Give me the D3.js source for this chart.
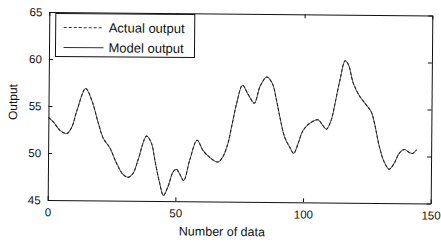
<!DOCTYPE html>
<html>
<head>
<meta charset="utf-8">
<script src="https://cdn.jsdelivr.net/npm/d3@7"></script>
<style>
  body { margin: 0; background: #fff; }
  svg { display: block; font-family: "Liberation Sans", Arial, sans-serif; }
  .tick text { font-size: 11.5px; fill: #111; }
</style>
</head>
<body>
<svg width="441" height="242"></svg>
<script>
  // sample number (x)
  const dataIndex = [0, 2, 4.7, 7.3, 9.2, 11.2, 14.5, 17, 19.6, 21.6, 24.2, 26.8, 29.4, 31.4, 33.3,
    35.3, 38.5, 40.5, 41.8, 43.8, 45.3, 47, 49, 50.3, 51.6, 53.2, 55.5, 58.3, 60.7, 63.3, 66.5,
    68.5, 70.4, 71.8, 73.7, 75.9, 78.2, 80.6, 82.8, 85.4, 87.6, 89.3, 90.6, 92.6, 94.5, 96.2,
    97.8, 99.7, 102.3, 105.6, 107.2, 108.9, 110.8, 112.1, 114.1, 116, 117.3, 119.3, 121.9,
    124.5, 126.4, 127.7, 129.7, 131.6, 133.6, 135.5, 137.5, 139.5, 141.4, 142.7, 144.3];

  // measured output
  const actualOutput = [53.8, 53.3, 52.4, 52.1, 52.8, 54.6, 56.9, 55.6, 53.2, 51.6, 50.6, 49.0, 47.8, 47.5, 47.9,
    49.4, 51.9, 51.1, 49.4, 46.9, 45.6, 46.5, 48.1, 48.4, 47.9, 47.2, 49.4, 51.5, 50.4, 49.7, 49.2,
    49.8, 51.2, 53.0, 55.5, 57.4, 56.4, 55.5, 57.3, 58.3, 57.6, 55.8, 54.1, 51.9, 50.9, 50.2,
    51.2, 52.6, 53.4, 53.8, 53.3, 52.8, 53.8, 55.4, 58.1, 60.1, 59.7, 57.7, 56.3,
    55.4, 54.7, 53.5, 51.0, 49.4, 48.6, 49.2, 50.3, 50.7, 50.4, 50.3, 50.7];

  // model output (lies on top of the measured curve)
  const modelOutput = [53.8, 53.3, 52.4, 52.1, 52.8, 54.6, 56.9, 55.6, 53.2, 51.6, 50.6, 49.0, 47.8, 47.5, 47.9,
    49.4, 51.9, 51.1, 49.4, 46.9, 45.6, 46.5, 48.1, 48.4, 47.9, 47.2, 49.4, 51.5, 50.4, 49.7, 49.2,
    49.8, 51.2, 53.0, 55.5, 57.4, 56.4, 55.5, 57.3, 58.3, 57.6, 55.8, 54.1, 51.9, 50.9, 50.2,
    51.2, 52.6, 53.4, 53.8, 53.3, 52.8, 53.8, 55.4, 58.1, 60.1, 59.7, 57.7, 56.3,
    55.4, 54.7, 53.5, 51.0, 49.4, 48.6, 49.2, 50.3, 50.7, 50.4, 50.3, 50.7];

  const xTicks = [0, 50, 100, 150];
  const yTicks = [45, 50, 55, 60, 65];
  const seriesNames = ["Actual output", "Model output"];

  const svg = d3.select("svg");

  // plot box (the scanned figure is turned a little clockwise)
  const box = { left: 48.5, right: 431.5, top: 13.75, bottom: 201.75 };
  const g = svg.append("g")
    .attr("transform", "rotate(0.5, 240, 107.75)");

  const x = d3.scaleLinear().domain([0, 150]).range([box.left, box.right]);
  const y = d3.scaleLinear().domain([45, 65]).range([box.bottom, box.top]);

  // axes with inward ticks on all four sides
  g.append("g")
    .attr("transform", "translate(0," + box.bottom + ")")
    .call(d3.axisBottom(x).tickValues(xTicks).tickSizeInner(-4).tickSizeOuter(0).tickPadding(8));
  g.append("g")
    .attr("transform", "translate(" + box.left + ",0)")
    .call(d3.axisLeft(y).tickValues(yTicks).tickSizeInner(-4).tickSizeOuter(0).tickPadding(7));
  g.append("g")
    .attr("transform", "translate(0," + box.top + ")")
    .call(d3.axisTop(x).tickValues(xTicks).tickSizeInner(-4).tickSizeOuter(0).tickFormat(""));
  g.append("g")
    .attr("transform", "translate(" + box.right + ",0)")
    .call(d3.axisRight(y).tickValues(yTicks).tickSizeInner(-4).tickSizeOuter(0).tickFormat(""));
  g.selectAll(".domain, .tick line").attr("stroke", "#111");

  const line = d3.line()
    .x((d, i) => x(dataIndex[i]))
    .y(d => y(d))
    .curve(d3.curveCatmullRom);

  g.append("path")
    .datum(modelOutput)
    .attr("fill", "none")
    .attr("stroke", "#555")
    .attr("stroke-width", 1)
    .attr("d", line);

  g.append("path")
    .datum(actualOutput)
    .attr("fill", "none")
    .attr("stroke", "#222")
    .attr("stroke-width", 1)
    .attr("stroke-dasharray", "3,2")
    .attr("d", line);

  // legend
  const legend = g.append("g");
  legend.append("rect")
    .attr("x", 55).attr("y", 15)
    .attr("width", 139).attr("height", 43)
    .attr("fill", "#fff")
    .attr("stroke", "#111");
  seriesNames.forEach((name, i) => {
    const ly = 29 + i * 20;
    legend.append("line")
      .attr("x1", 63).attr("x2", 103)
      .attr("y1", ly).attr("y2", ly)
      .attr("stroke", "#333")
      .attr("stroke-dasharray", i === 0 ? "3,2" : null);
    legend.append("text")
      .attr("x", 108).attr("y", ly + 4.5)
      .style("font-size", "13px")
      .attr("fill", "#111")
      .text(name);
  });

  // axis titles
  g.append("text")
    .attr("x", 223).attr("y", 236)
    .attr("text-anchor", "middle")
    .style("font-size", "12.5px")
    .attr("fill", "#111")
    .text("Number of data");
  g.append("text")
    .attr("transform", "translate(17,104) rotate(-90)")
    .attr("text-anchor", "middle")
    .style("font-size", "12px")
    .attr("fill", "#111")
    .text("Output");
</script>
</body>
</html>
